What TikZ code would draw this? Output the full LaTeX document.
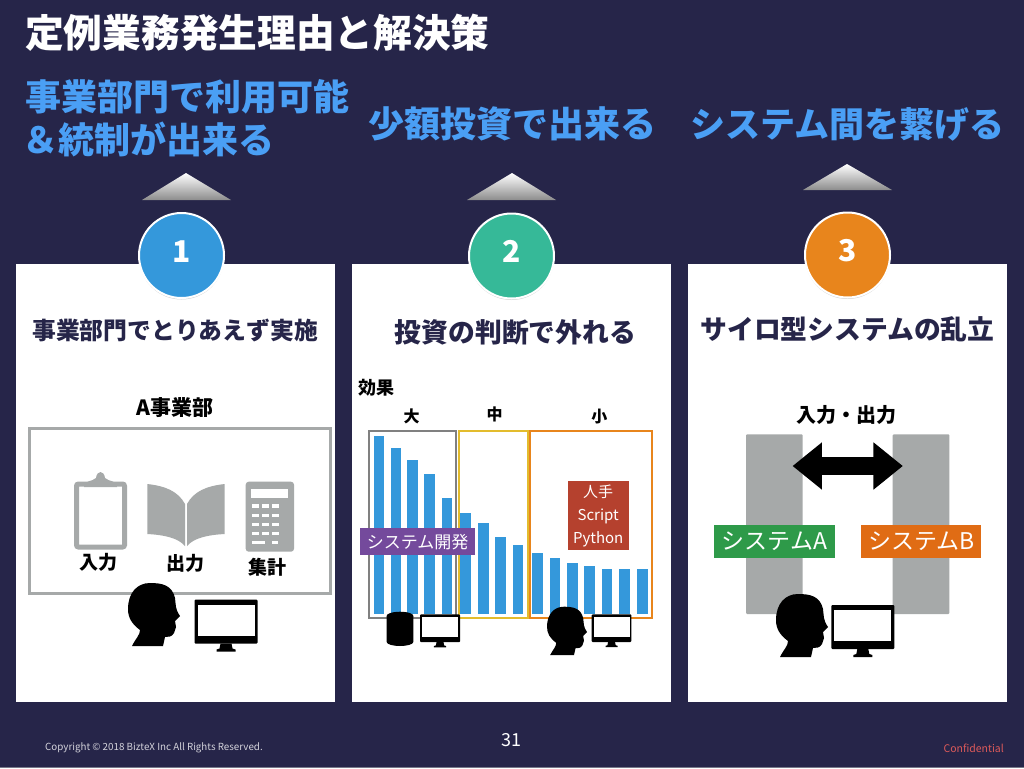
\documentclass[tikz,border=0pt]{standalone}
\usepackage{fontspec}
\setmainfont[BoldFont={Noto Sans CJK JP Black}]{Noto Sans CJK JP}
\usetikzlibrary{arrows.meta}
\usetikzlibrary{shapes,arrows}
\usetikzlibrary{shadows}
\newcommand{\jpsize}[1]{\fontsize{#1}{#1}\selectfont}
\definecolor{slide}{HTML}{262549}
\definecolor{sky}{HTML}{3498DB}
\definecolor{azure}{HTML}{4A9FF5}
\definecolor{mint}{HTML}{36B998}
\definecolor{amber}{HTML}{E8851C}
\definecolor{silver}{HTML}{A6A9A9}
\definecolor{plum}{HTML}{744A9C}
\definecolor{brick}{HTML}{B5412E}
\definecolor{leaf}{HTML}{2E9A49}
\definecolor{rust}{HTML}{E06C14}
\definecolor{alert}{HTML}{DC5A5A}
\definecolor{gold}{HTML}{E3BC2D}
\tikzset{
  panel/.style={fill=white},
  heading/.style={text=azure,font=\bfseries\fontsize{36}{43}\selectfont,align=left,anchor=west,inner sep=0pt},
  cardtitle/.style={text=slide,font=\bfseries\jpsize{#1},inner sep=0pt},
  label/.style={text=black,font=\bfseries\jpsize{#1},inner sep=0pt},
  badge/.style={circle,draw=white,line width=2pt,text=white,minimum size=85pt,inner sep=0pt,
    text height=23pt,text depth=10pt,
    font=\bfseries\jpsize{30},drop shadow={shadow xshift=0pt,shadow yshift=-1.5pt,opacity=.35}},
  roof/.style={top color=white,bottom color=black!45,draw=none},
  tagbox/.style={text=white,inner sep=0pt,font=\jpsize{#1}},
  bar/.style={fill=sky},
  headicon/.pic={
    \fill[black] (4,63) .. controls (8,55) and (12,52) .. (12,47)
      .. controls (4,41) and (0,35) .. (0,26) .. controls (0,10) and (9,0) .. (22,0)
      .. controls (34,0) and (44,2) .. (47,15) .. controls (48,22) and (47,26) .. (52,33)
      -- (47,38) -- (48,44) -- (46,50) .. controls (44,54) and (40,54) .. (37,54)
      -- (35,63) -- cycle;
  },
  screenicon/.pic={
    \fill[black,rounded corners=1pt] (0,0) rectangle (63,44);
    \fill[white] (3,5) rectangle (60,36);
    \fill[black] (26,44) -- (37,44) -- (38,49) -- (41,50) -- (41,52) -- (22,52) -- (22,50) -- (25,49) -- cycle;
  }
}
\begin{document}
\begin{tikzpicture}[x=1pt,y=-1pt]
\useasboundingbox (0,0) rectangle (1024,768);
\fill[slide] (0,0) rectangle (1024,768);
\fill[black!20!slide!60!white] (0,766.8) rectangle (1024,768);

% titles
\node[anchor=west,inner sep=0pt,text=white,font=\bfseries\jpsize{38.7}] (title) at (25,33) {定例業務発生理由と解決策};
\node[heading] (goalA) at (25,118) {事業部門で利用可能\\\hspace{-3pt}＆統制が出来る};
\node[heading] (goalB) at (368,124) {少額投資で出来る};
\node[heading,font=\bfseries\jpsize{35}] (goalC) at (690,124) {システム間を繋げる};

% cards
\fill[panel] (16,264) rectangle (335,702);
\fill[panel] (352,264) rectangle (671,702);
\fill[panel] (688,264) rectangle (1007,702);

% roofs
\shade[roof] (142,200) -- (186,173) -- (231,200) -- cycle;
\shade[roof] (467,200) -- (512,173) -- (556,200) -- cycle;
\shade[roof] (803,190) -- (847,164) -- (892,190) -- cycle;

% badges
\node[badge,fill=sky] (one) at (181.5,255.5) {1};
\node[badge,fill=mint] (two) at (511.5,256) {2};
\node[badge,fill=amber] (three) at (847.5,255) {3};

\node[cardtitle=23.8] (cardA) at (175,330) {事業部門でとりあえず実施};
\node[cardtitle=26.8] (cardB) at (515.5,332) {投資の判断で外れる};
\node[cardtitle=26.8] (cardC) at (847.5,329) {サイロ型システムの乱立};

% left card
\node[label=21] (dept) at (175,408) {A事業部};
\draw[silver,line width=3pt] (29,428.3) rectangle (330,593.3);
\draw[silver,line width=5pt,rounded corners=2pt] (76.5,484) rectangle (124.5,547);
\fill[silver] (84,487) .. controls (84,480) and (92,482) .. (96,478)
  .. controls (97,470) and (104,470) .. (105,478) .. controls (109,482) and (117,480) .. (117,487) -- cycle;
\fill[silver] (147.3,484) .. controls (165,486) and (178,491) .. (185,504) -- (185,546)
  .. controls (178,538) and (165,535) .. (147.3,534) -- cycle;
\fill[silver] (224.7,484) .. controls (207,486) and (194,491) .. (187,504) -- (187,546)
  .. controls (194,538) and (207,535) .. (224.7,534) -- cycle;
\fill[silver,rounded corners=3pt] (245.7,481.7) rectangle (294,551.7);
\fill[white] (251.4,489.4) rectangle (287.7,498.4);
\foreach \keyy in {506,515.3,524.3,533.3}{
  \foreach \keyx in {255,265,275}{
    \fill[white] (\keyx-3.5,\keyy-1.7) rectangle (\keyx+3.5,\keyy+1.7);
  }
}
\fill[white] (251.5,540.5) rectangle (265,544);
\fill[white] (271.7,540.5) rectangle (278.3,544);
\node[label=19] (input) at (98.7,562.7) {入力};
\node[label=19] (output) at (185,563.3) {出力};
\node[label=19] (total) at (267.7,567.7) {集計};
\pic at (128,583) {headicon};
\pic at (194.5,599.5) {screenicon};

% middle card
\node[label=18] (effect) at (376,388) {効果};
\node[label=16] (large) at (411.7,416.7) {大};
\node[label=16] (medium) at (494.7,414) {中};
\node[label=16] (small) at (599.3,416.7) {小};
\foreach \barx/\bary in {373.7/436.3,390.7/448.3,407.3/460,424.3/474.3,441.7/498.3,460.3/512.7,478.3/523,495/536.7,
  512.7/545,532.3/553.3,549.7/558.3,567.3/563.3,584.3/566,601.7/568.7,619/568.7,637/568.7}{
  \fill[bar] (\barx,\bary) rectangle (\barx+10.5,614);
}
\draw[black!50,line width=2pt] (369,430.7) rectangle (456.3,618.3);
\draw[gold,line width=2pt] (459,430.7) rectangle (528,618.3);
\draw[amber,line width=2pt] (529.7,430.7) rectangle (652,618.3);
\node[tagbox=17,fill=plum,minimum width=115pt,minimum height=26.7pt] (dev) at (417.5,541.7) {システム開発};
\node[tagbox=15.4,font=\fontsize{15}{23}\selectfont,fill=brick,minimum width=61pt,minimum height=69.3pt,align=center] (diy) at (598.2,515.7) {人手\\Script\\Python};
\fill[black] (386.7,616) arc[start angle=180,end angle=360,x radius=13.3,y radius=4] -- (413.3,642)
  arc[start angle=0,end angle=180,x radius=13.3,y radius=4] -- cycle;
\fill[black] (400,616) ellipse[x radius=13.3,y radius=4.3];
\pic[scale=.635] at (420,614.3) {screenicon};
\pic[scale=.77] at (547,606.7) {headicon};
\pic[scale=.63] at (591.7,614.3) {screenicon};

% right card
\node[label=20] (inout) at (846.7,415) {入力・出力};
\fill[silver,rounded corners=1pt] (746,434.3) rectangle (802.7,614);
\fill[silver,rounded corners=1pt] (892.7,434.3) rectangle (949.3,614);
\node[double arrow,fill=black,minimum height=110pt,minimum width=47pt,inner sep=8.65pt,
  double arrow head extend=14.85pt,double arrow tip angle=78] (link) at (847.7,466) {};
\node[tagbox=23,fill=leaf,minimum width=121pt,minimum height=32.7pt] (sysA) at (774.5,541.3) {システムA};
\node[tagbox=23,fill=rust,minimum width=119.7pt,minimum height=32.7pt] (sysB) at (921.2,541.3) {システムB};
\pic at (776,594) {headicon};
\pic at (831.3,605) {screenicon};

% footer
\node[anchor=west,inner sep=0pt,text=white!80!slide,font=\jpsize{9.8}] (copy) at (45,748) {Copyright © 2018 BizteX Inc All Rights Reserved.};
\node[inner sep=0pt,text=white,font=\jpsize{18}] (page) at (511,740) {31};
\node[anchor=east,inner sep=0pt,text=alert,font=\jpsize{10.5}] (conf) at (1004,748) {Confidential};
\end{tikzpicture}
\end{document}
